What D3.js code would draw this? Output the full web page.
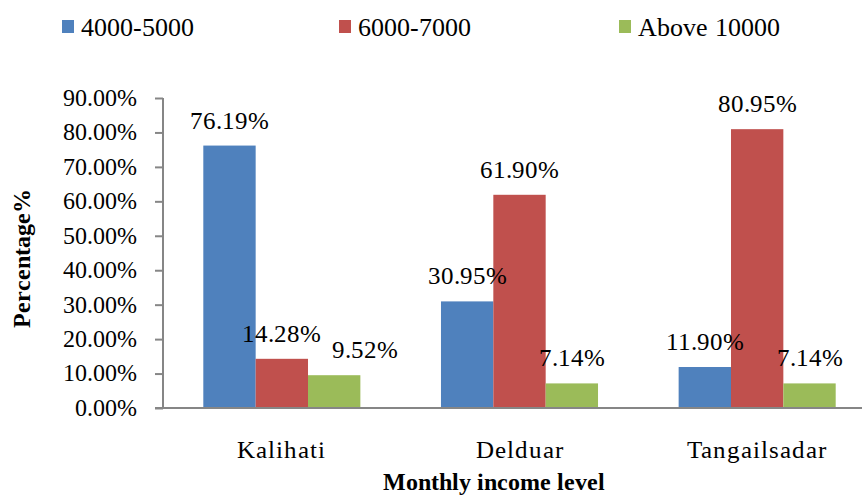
<!DOCTYPE html>
<html>
<head>
<meta charset="utf-8">
<script src="https://cdn.jsdelivr.net/npm/d3@7/dist/d3.min.js"></script>
<style>
  @font-face { font-family: "ChartSerif"; src: local("Liberation Serif"), local("LiberationSerif"), local("LiberationSerif-Regular"), local("Nimbus Roman"), local("FreeSerif"); font-weight: normal; }
  @font-face { font-family: "ChartSerif"; src: local("Liberation Serif Bold"), local("LiberationSerif-Bold"), local("Nimbus Roman Bold"), local("FreeSerif Bold"); font-weight: bold; }
  body { margin: 0; }
</style>
</head>
<body>
<script>
// data
var districts = ["Kalihati", "Delduar", "Tangailsadar"];
var incomeGroups = ["4000-5000", "6000-7000", "Above 10000"];
var group4000 = [76.19, 30.95, 11.90];
var group6000 = [14.28, 61.90, 80.95];
var group10000 = [9.52, 7.14, 7.14];
var yTicks = [0, 10, 20, 30, 40, 50, 60, 70, 80, 90];

var colors = ["#4F81BD", "#C0504D", "#9BBB59"];
var seriesValues = [group4000, group6000, group10000];
var serif = "ChartSerif, 'Liberation Serif', 'Nimbus Roman', Tinos, FreeSerif, 'DejaVu Serif'";

// build rows for d3
var rows = districts.map(function(d, i) {
  return {district: d, values: incomeGroups.map(function(g, j) {
    return {group: g, idx: j, value: seriesValues[j][i]};
  })};
});

var width = 862, height = 496;
var plot = {left: 163, top: 98, bottom: 408, right: 876};

var svg = d3.select("body").append("svg")
    .attr("width", width)
    .attr("height", height)
    .attr("font-family", serif);

function label(parent, x, y, size, txt, anchor, opts) {
  opts = opts || {};
  var t = parent.append("text")
      .attr("transform", "translate(" + x + "," + y + ")" + (opts.rotate ? " rotate(" + opts.rotate + ")" : ""))
      .attr("text-anchor", anchor || "start")
      .style("font-family", serif)
      .style("font-size", size + "px")
      .attr("fill", "#000")
      .text(txt);
  if (opts.bold) t.style("font-weight", "bold");
  if (opts.spacing) t.style("letter-spacing", opts.spacing + "px");
  if (opts.dy) t.attr("dy", opts.dy);
  return t;
}

// scales
var x0 = d3.scaleBand().domain(districts).range([plot.left, plot.right]);
var x1 = d3.scaleBand().domain(incomeGroups).range([0, x0.bandwidth()])
    .paddingInner(0).paddingOuter(0.77);
var y = d3.scaleLinear().domain([0, 90]).range([plot.bottom, plot.top]);

// y axis
var yAxis = svg.append("g")
    .attr("transform", "translate(" + plot.left + ",0)")
    .call(d3.axisLeft(y).tickValues(yTicks).tickSize(8).tickFormat(""));
yAxis.selectAll("line, path").attr("stroke", "#868686").attr("stroke-width", 2);
yAxis.select(".domain").attr("d", "M0," + plot.top + "V" + plot.bottom);
yTicks.forEach(function(t) {
  label(svg, plot.left - 26, y(t), 24, t.toFixed(2) + "%", "end", {dy: "0.33em"});
});

// bars
var groups = svg.selectAll(".district")
    .data(rows)
  .enter().append("g")
    .attr("class", "district")
    .attr("transform", function(d) { return "translate(" + x0(d.district) + ",0)"; });

groups.selectAll("rect")
    .data(function(d) { return d.values; })
  .enter().append("rect")
    .attr("x", function(d) { return x1(d.group); })
    .attr("y", function(d) { return y(d.value); })
    .attr("width", x1.bandwidth())
    .attr("height", function(d) { return plot.bottom - y(d.value); })
    .attr("fill", function(d) { return colors[d.idx]; });

// value labels (the 9.52% label sits a little right of its bar in the original)
var labelNudge = {"Kalihati|Above 10000": 31};
rows.forEach(function(r) {
  r.values.forEach(function(v) {
    var cx = x0(r.district) + x1(v.group) + x1.bandwidth() / 2 + (labelNudge[r.district + "|" + v.group] || 0);
    label(svg, cx, y(v.value) - 17, 25, v.value.toFixed(2) + "%", "middle");
  });
});

// x axis line
svg.append("line")
    .attr("x1", plot.left - 8).attr("x2", width)
    .attr("y1", plot.bottom).attr("y2", plot.bottom)
    .attr("stroke", "#868686").attr("stroke-width", 2);

// category labels
districts.forEach(function(d) {
  label(svg, x0(d) + x0.bandwidth() / 2, 458, 25, d, "middle", {spacing: 1});
});

// axis titles
label(svg, 494, 490, 24, "Monthly income level", "middle", {bold: true});
label(svg, 30, 258, 24, "Percentage%", "middle", {bold: true, rotate: -90});

// legend
var legendX = [62, 339, 619];
incomeGroups.forEach(function(g, i) {
  svg.append("rect")
      .attr("x", legendX[i]).attr("y", 20).attr("width", 12).attr("height", 13)
      .attr("fill", colors[i]);
  label(svg, legendX[i] + 19, 36, 26, g, "start");
});
</script>
</body>
</html>
